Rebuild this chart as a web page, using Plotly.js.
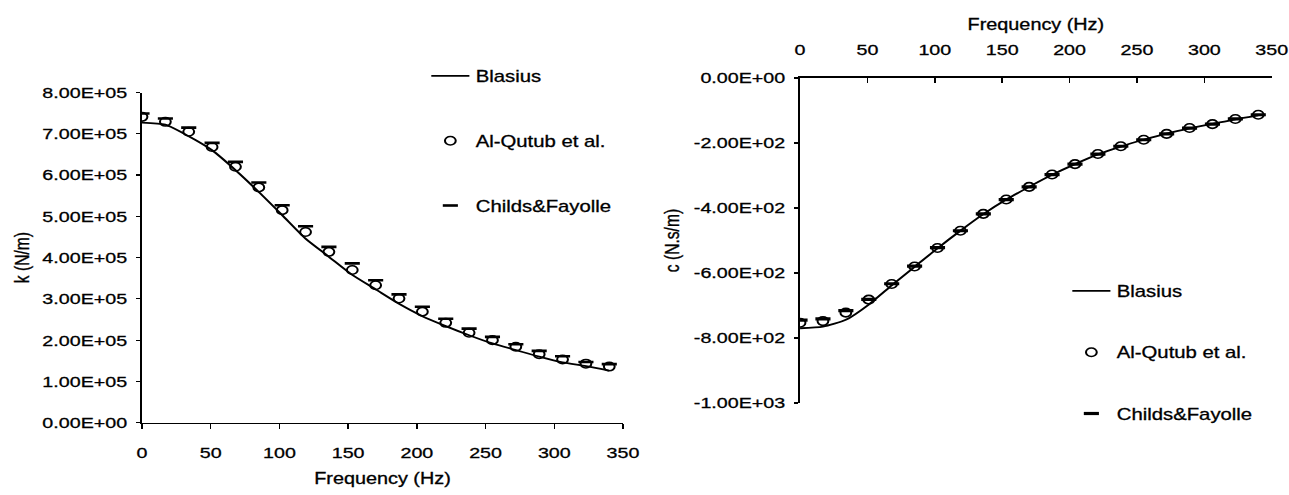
<!DOCTYPE html>
<html>
<head>
<meta charset="utf-8">
<script src="https://cdn.plot.ly/plotly-3.0.1.min.js"></script>
<style>
html,body{margin:0;padding:0;background:#fff;overflow:hidden;}
#chart{width:1015px;height:495px;transform:scaleX(1.27);transform-origin:0 0;}
#chart text{stroke:#000;stroke-width:0.3px;}
</style>
</head>
<body>
<div id="chart"></div>
<script>
// Frequencies (Hz)
const freq = [0,17,34,51,68,85,102,119,136,153,170,187,204,221,238,255,272,289,306,323,340];

// Stiffness k (N/m)
const kBlasius = [7.27e5,7.22e5,6.94e5,6.60e5,6.12e5,5.59e5,5.03e5,4.46e5,4.02e5,3.58e5,3.23e5,2.88e5,2.58e5,2.34e5,2.12e5,1.92e5,1.76e5,1.60e5,1.46e5,1.37e5,1.26e5];
const kAlQutub = [7.41e5,7.29e5,7.05e5,6.68e5,6.20e5,5.70e5,5.15e5,4.62e5,4.14e5,3.70e5,3.33e5,3.01e5,2.69e5,2.42e5,2.18e5,2.00e5,1.84e5,1.66e5,1.53e5,1.43e5,1.36e5];
const kChilds  = [7.49e5,7.37e5,7.15e5,6.78e5,6.32e5,5.82e5,5.27e5,4.76e5,4.26e5,3.86e5,3.45e5,3.11e5,2.81e5,2.52e5,2.28e5,2.08e5,1.90e5,1.74e5,1.61e5,1.47e5,1.42e5];

// Damping c (N.s/m)
const cBlasius = [-770,-765,-744,-697,-638,-581,-524,-470,-419,-374,-335,-298,-265,-235,-211,-190,-171,-155,-141,-127,-115];
const cAlQutub = [-753,-748,-722,-682,-634,-580,-523,-470,-418,-374,-335,-297,-265,-234,-210,-190,-172,-154,-142,-126,-113];
const cChilds  = [-745,-741,-716,-681,-633,-579,-522,-470,-418,-374,-335,-297,-265,-234,-210,-190,-172,-154,-142,-126,-113];

// Tick labels
const xTicks = [0,50,100,150,200,250,300,350];
const kTickVals = [0,1e5,2e5,3e5,4e5,5e5,6e5,7e5,8e5];
const kTickText = ['0.00E+00','1.00E+05','2.00E+05','3.00E+05','4.00E+05','5.00E+05','6.00E+05','7.00E+05','8.00E+05'];
const cTickVals = [-1000,-800,-600,-400,-200,0];
const cTickText = ['-1.00E+03','-8.00E+02','-6.00E+02','-4.00E+02','-2.00E+02','0.00E+00'];

const names = ['Blasius','Al-Qutub et al.','Childs&Fayolle'];
const FONT = 'Liberation Sans, Arial, sans-serif';
const S = 1.27;               // horizontal stretch of the original figure
const W = 1289, H = 495;
const Wp = W / S;
const px = v => v / W;        // fraction of width from reference pixel
const py = v => 1 - v / H;
const legX = v => (v / S - 41) / Wp;   // legend left so that text starts at ref pixel v

const lineStyle = {color:'#000', width:1.8, shape:'spline', smoothing:0.6};
const circ = {symbol:'circle-open', size:8.5, color:'#000', line:{color:'#000', width:1.6}};
const dashK = {symbol:'line-ew-open', size:8.5, color:'#000', line:{color:'#000', width:2.6}};
const dashC = {symbol:'line-ew-open', size:8.5, color:'#000', line:{color:'#000', width:3.2}};

const traces = [
  {x:freq, y:kBlasius, xaxis:'x', yaxis:'y', mode:'lines', line:lineStyle, name:names[0], legend:'legend', legendgroup:'a1'},
  {x:freq, y:kAlQutub, xaxis:'x', yaxis:'y', mode:'markers', marker:circ, name:names[1], legend:'legend', legendgroup:'a2'},
  {x:freq, y:kChilds, xaxis:'x', yaxis:'y', mode:'markers', marker:dashK, name:names[2], legend:'legend', legendgroup:'a3'},
  {x:freq, y:cBlasius, xaxis:'x2', yaxis:'y2', mode:'lines', line:lineStyle, name:names[0], legend:'legend2', legendgroup:'b1'},
  {x:freq, y:cAlQutub, xaxis:'x2', yaxis:'y2', mode:'markers', marker:circ, name:names[1], legend:'legend2', legendgroup:'b2'},
  {x:freq, y:cChilds, xaxis:'x2', yaxis:'y2', mode:'markers', marker:dashC, name:names[2], legend:'legend2', legendgroup:'b3'}
];

const tickFont = {family:FONT, size:15.5, color:'#000'};
const titleFont = {family:FONT, size:15.6, color:'#000'};
const legFont = {family:FONT, size:16, color:'#000'};

const axisCommon = {
  tickcolor:'#000', tickwidth:1.2, showline:true, linecolor:'#000', linewidth:1.6,
  showgrid:false, zeroline:false, tickfont:tickFont
};

const layout = {
  width:Wp, height:H,
  margin:{l:0, r:0, t:0, b:0},
  paper_bgcolor:'#fff', plot_bgcolor:'#fff',
  font:{family:FONT, color:'#000'},
  showlegend:true,
  xaxis:Object.assign({}, axisCommon, {
    domain:[px(142), px(623)], range:[0,350], anchor:'y',
    tickvals:xTicks, ticks:'outside', ticklen:5, ticklabelstandoff:10,
    title:{text:'Frequency (Hz)', font:titleFont, standoff:13}
  }),
  yaxis:Object.assign({}, axisCommon, {
    domain:[py(422.7), py(92.5)], range:[0,8e5], anchor:'x',
    tickvals:kTickVals, ticktext:kTickText, ticks:'outside', ticklen:3, ticklabelstandoff:4,
    title:{text:'k (N/m)', font:titleFont, standoff:6}
  }),
  xaxis2:Object.assign({}, axisCommon, {
    domain:[px(800), px(1271.7)], range:[0,350], anchor:'y2', side:'top',
    tickvals:xTicks, ticks:'inside', ticklen:5, ticklabelstandoff:15,
    title:{text:'Frequency (Hz)', font:titleFont, standoff:7}
  }),
  yaxis2:Object.assign({}, axisCommon, {
    domain:[py(403), py(78)], range:[-1000,0], anchor:'x2',
    tickvals:cTickVals, ticktext:cTickText, ticks:'outside', ticklen:3, ticklabelstandoff:4,
    title:{text:'c (N.s/m)', font:titleFont, standoff:7}
  }),
  legend:{x:legX(477), y:py(59), xanchor:'left', yanchor:'top', font:legFont, bgcolor:'rgba(0,0,0,0)', borderwidth:0, tracegroupgap:41, traceorder:'grouped'},
  legend2:{x:legX(1118), y:py(274), xanchor:'left', yanchor:'top', font:legFont, bgcolor:'rgba(0,0,0,0)', borderwidth:0, tracegroupgap:37.5, traceorder:'grouped'}
};

Plotly.newPlot('chart', traces, layout, {staticPlot:true, displayModeBar:false});
</script>
</body>
</html>
